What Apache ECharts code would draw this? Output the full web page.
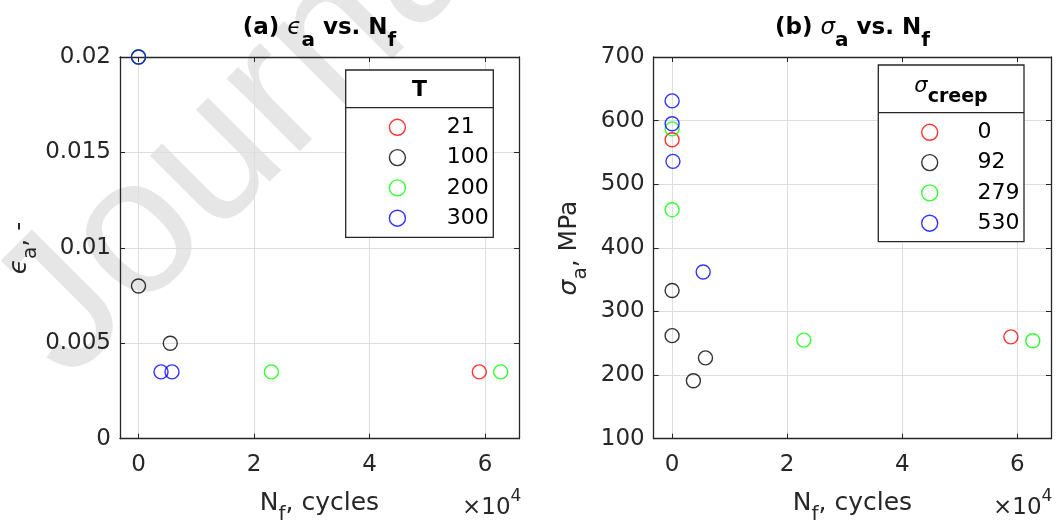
<!DOCTYPE html>
<html>
<head>
<meta charset="utf-8">
<script src="https://cdn.jsdelivr.net/npm/echarts@6/dist/echarts.min.js"></script>
<style>
  html, body { margin: 0; padding: 0; background: #fff; }
  #chart { width: 1062px; height: 526px; }
</style>
</head>
<body>
<div id="chart"></div>
<script>
const FONT = 'DejaVu Sans';
const AXIS_COLOR = '#262626';
const GRID_COLOR = '#dedede';
const markerColors = ['#ff0000', '#000000', '#00ff00', '#0000ff'];

// (a) strain amplitude vs. cycles to failure, grouped by temperature T
const tempLabels = ['21', '100', '200', '300'];
const strainT21 = [[0, 0.02], [59000, 0.0035]];
const strainT100 = [[0, 0.008], [5500, 0.005]];
const strainT200 = [[0, 0.02], [23000, 0.0035], [62700, 0.0035]];
const strainT300 = [[0, 0.02], [3900, 0.0035], [5800, 0.0035]];

// (b) stress amplitude vs. cycles to failure, grouped by creep stress
const creepLabels = ['0', '92', '279', '530'];
const stressC0 = [[0, 570], [58900, 260]];
const stressC92 = [[0, 333], [0, 262], [3700, 191], [5800, 227]];
const stressC279 = [[0, 587], [0, 460], [22900, 255], [62700, 254]];
const stressC530 = [[0, 631], [0, 595], [150, 536], [5400, 362]];

// axis ranges and ticks
const xRange = [-3200, 65870];
const xTickValues = [0, 20000, 40000, 60000];
const xTickScale = 10000;
const strainRange = [0, 0.02];
const strainStep = 0.005;
const stressRange = [100, 700];
const stressStep = 100;

const chart = echarts.init(document.getElementById('chart'), null, { renderer: 'canvas' });

function xAxisDef(gridIndex, mirror) {
  return {
    type: 'value', gridIndex, position: mirror ? 'top' : 'bottom',
    min: xRange[0], max: xRange[1], splitNumber: 3,
    minInterval: 20000, maxInterval: 20000,
    axisLine: { show: true, onZero: false, lineStyle: { color: AXIS_COLOR, width: 1.3 } },
    axisTick: { show: true, inside: true, length: 5, lineStyle: { color: AXIS_COLOR, width: 1 } },
    axisLabel: {
      show: !mirror, margin: 15, fontFamily: FONT, fontSize: 23, color: AXIS_COLOR,
      showMinLabel: false, showMaxLabel: false,
      formatter: v => xTickValues.includes(v) ? String(v / xTickScale) : ''
    },
    splitLine: { show: !mirror, lineStyle: { color: GRID_COLOR, width: 1 } }
  };
}

function yAxisDef(gridIndex, range, step, mirror) {
  return {
    type: 'value', gridIndex, position: mirror ? 'right' : 'left',
    min: range[0], max: range[1], interval: step,
    axisLine: { show: true, onZero: false, lineStyle: { color: AXIS_COLOR, width: 1.3 } },
    axisTick: { show: true, inside: true, length: 5, lineStyle: { color: AXIS_COLOR, width: 1 } },
    axisLabel: {
      show: !mirror, margin: 9, fontFamily: FONT, fontSize: 23, color: AXIS_COLOR,
      padding: [6, 0, 0, 0]
    },
    splitLine: { show: !mirror, lineStyle: { color: GRID_COLOR, width: 1 } }
  };
}

function scatter(name, data, color, axisIndex) {
  return {
    type: 'scatter', name, data,
    xAxisIndex: axisIndex, yAxisIndex: axisIndex,
    symbol: 'circle', symbolSize: 14, clip: false, silent: true,
    itemStyle: { color: 'rgba(0,0,0,0)', borderColor: color, borderWidth: 1.4 },
    emphasis: { disabled: true }
  };
}

// icon centred at iconX, label text starting at textX
const LEGEND_ICON = 16;
function legendDef(labels, iconX, top, textX) {
  const half = LEGEND_ICON / 2;
  return {
    orient: 'vertical', left: iconX - half, top, padding: 0,
    itemWidth: LEGEND_ICON, itemHeight: LEGEND_ICON, itemGap: 8.3,
    selectedMode: false, z: 6,
    textStyle: {
      fontFamily: FONT, fontSize: 22, color: '#000',
      padding: [0, 0, 0, textX - (iconX + half) - 5]
    },
    data: labels.map((name, i) => ({
      name, icon: 'circle',
      itemStyle: { color: 'rgba(0,0,0,0)', borderColor: markerColors[i], borderWidth: 1.4 }
    }))
  };
}

const subPad = p => [p, 0, 0, 0];
const supPad = p => [0, 0, p, 0];

function label(x, y, text, rich, opts) {
  return Object.assign({
    type: 'text', x, y, z: 5, silent: true,
    style: { text, rich, align: 'center', verticalAlign: 'middle' }
  }, opts || {});
}

const titleRich = {
  b: { fontFamily: FONT, fontWeight: 'bold', fontSize: 23, fill: '#000' },
  g: { fontFamily: FONT, fontStyle: 'italic', fontSize: 23, fill: '#000' },
  s: { fontFamily: FONT, fontWeight: 'bold', fontSize: 20, fill: '#000', padding: subPad(24) }
};
const axisNameRich = {
  m: { fontFamily: FONT, fontSize: 25, fill: AXIS_COLOR },
  g: { fontFamily: FONT, fontStyle: 'italic', fontSize: 25, fill: AXIS_COLOR },
  s: { fontFamily: FONT, fontSize: 20, fill: AXIS_COLOR, padding: subPad(22) }
};
const expRich = {
  m: { fontFamily: FONT, fontSize: 23, fill: AXIS_COLOR },
  p: { fontFamily: FONT, fontSize: 17, fill: AXIS_COLOR, padding: supPad(23) }
};
const legendTitleRich = {
  b: { fontFamily: FONT, fontWeight: 'bold', fontSize: 22, fill: '#000' },
  g: { fontFamily: FONT, fontStyle: 'italic', fontSize: 21, fill: '#000' },
  s: { fontFamily: FONT, fontWeight: 'bold', fontSize: 19, fill: '#000', padding: subPad(21) }
};

function exponentLabel(x, y) {
  const el = label(x, y, '{m|×10}{p|4}', expRich);
  el.style.align = 'left';
  return el;
}

function legendFrame(x, y, w, h, headerY) {
  return [
    {
      type: 'rect', z: 4, silent: true,
      shape: { x, y, width: w, height: h },
      style: { fill: '#fff', stroke: AXIS_COLOR, lineWidth: 1.3 }
    },
    {
      type: 'line', z: 4, silent: true,
      shape: { x1: x, y1: headerY, x2: x + w, y2: headerY },
      style: { stroke: AXIS_COLOR, lineWidth: 1.3 }
    }
  ];
}

const graphics = [
  // faint watermark behind the left panel
  {
    type: 'text', x: 30, y: 345, rotation: Math.PI / 4, z: -10, silent: true,
    style: {
      text: 'Journal Pre-proof', fontFamily: 'Liberation Sans', fontSize: 195,
      fill: '#e6e6e6', align: 'left', verticalAlign: 'middle'
    }
  },
  // panel titles
  label(319.5, 28.5, '{b|(a) }{g|ϵ}{s|a}{b| vs. N}{s|f}', titleRich),
  label(852.4, 28.5, '{b|(b) }{g|σ}{s|a}{b| vs. N}{s|f}', titleRich),
  // x axis names
  label(319.5, 503.7, '{m|N}{s|f}{m|, cycles}', axisNameRich),
  label(852.4, 503.7, '{m|N}{s|f}{m|, cycles}', axisNameRich),
  // y axis names
  label(19.3, 248, '{g|ϵ}{s|a}{m|, -}', axisNameRich, { rotation: Math.PI / 2 }),
  label(569.3, 248, '{g|σ}{s|a}{m|, MPa}', axisNameRich, { rotation: Math.PI / 2 }),
  // x scale exponent
  exponentLabel(462, 508),
  exponentLabel(993, 508),
  // legend frames with header rows
  ...legendFrame(345.7, 70, 147.6, 167.3, 107.7),
  label(419.5, 90, '{b|T}', legendTitleRich),
  ...legendFrame(878.3, 65, 145.7, 176.7, 112.7),
  label(951, 87, '{g|σ}{s|creep}', legendTitleRich)
];

const option = {
  animation: false,
  backgroundColor: '#fff',
  grid: [
    { left: 120, top: 57, width: 399, height: 381.7 },
    { left: 653.7, top: 57, width: 397.3, height: 381.7 }
  ],
  xAxis: [
    xAxisDef(0, false), xAxisDef(0, true),
    xAxisDef(1, false), xAxisDef(1, true)
  ],
  yAxis: [
    yAxisDef(0, strainRange, strainStep, false), yAxisDef(0, strainRange, strainStep, true),
    yAxisDef(1, stressRange, stressStep, false), yAxisDef(1, stressRange, stressStep, true)
  ],
  legend: [
    legendDef(tempLabels, 396.7, 116.3, 446),
    legendDef(creepLabels, 929, 121.3, 976.7)
  ],
  series: [
    scatter(tempLabels[0], strainT21, markerColors[0], 0),
    scatter(tempLabels[1], strainT100, markerColors[1], 0),
    scatter(tempLabels[2], strainT200, markerColors[2], 0),
    scatter(tempLabels[3], strainT300, markerColors[3], 0),
    scatter(creepLabels[0], stressC0, markerColors[0], 2),
    scatter(creepLabels[1], stressC92, markerColors[1], 2),
    scatter(creepLabels[2], stressC279, markerColors[2], 2),
    scatter(creepLabels[3], stressC530, markerColors[3], 2)
  ],
  graphic: graphics
};

chart.setOption(option);
</script>
</body>
</html>
